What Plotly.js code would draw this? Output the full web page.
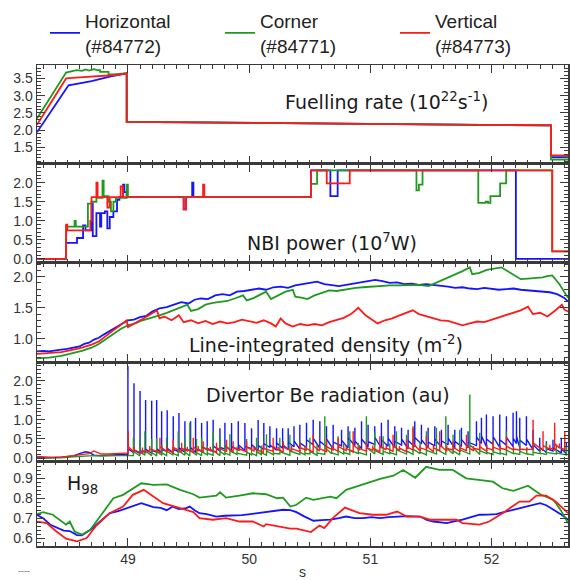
<!DOCTYPE html>
<html>
<head>
<meta charset="utf-8">
<script src="https://cdn.plot.ly/plotly-3.0.1.min.js"></script>
<style>
html,body{margin:0;padding:0;background:#fff;}
#chart{width:570px;height:580px;}
</style>
</head>
<body>
<div id="chart"></div>
<script>
// ---------- series names ----------
const seriesNames = ['Horizontal<br>(#84772)', 'Corner<br>(#84771)', 'Vertical<br>(#84773)'];
const seriesColors = ['#1414ff', '#1f9a1f', '#ff1a1a'];

// ---------- Panel 1: fuelling rate ----------
const fuelBlueT = [48.25, 48.51, 48.60, 48.70, 48.85, 48.99, 48.99, 52.49, 52.49, 52.63];
const fuelBlueV = [1.94, 3.30, 3.36, 3.42, 3.55, 3.65, 2.24, 2.14, 1.22, 1.22];
const fuelGreenT = [48.25, 48.49, 48.55, 48.58, 48.62, 48.65, 48.68, 48.72, 48.75, 48.77, 48.77, 48.84, 48.84, 48.88, 48.99, 48.99, 52.49, 52.49, 52.63];
const fuelGreenV = [2.34, 3.67, 3.72, 3.74, 3.72, 3.76, 3.73, 3.77, 3.74, 3.74, 3.69, 3.69, 3.62, 3.62, 3.65, 2.24, 2.14, 1.15, 1.15];
const fuelRedT = [48.25, 48.49, 48.60, 48.70, 48.80, 48.90, 48.99, 48.99, 52.49, 52.49, 52.63];
const fuelRedV = [2.16, 3.50, 3.53, 3.56, 3.58, 3.60, 3.65, 2.24, 2.14, 1.27, 1.27];

// ---------- Panel 2: NBI power (step) ----------
const nbiBlueT = [48.25, 48.49, 48.58, 48.63, 48.65, 48.70, 48.71, 48.74, 48.77, 48.78, 48.81, 48.83, 48.85, 48.88, 48.91, 48.93, 48.96, 48.97, 48.99, 49.46, 49.48, 49.53, 49.54, 50.51, 50.67, 50.73, 52.20, 52.63];
const nbiBlueV = [0, 0.42, 0.55, 0.88, 0.75, 1.45, 0.60, 1.20, 0.85, 1.20, 1.25, 0.80, 1.10, 1.25, 1.55, 1.62, 1.95, 1.75, 1.62, 1.30, 1.62, 2.00, 1.62, 2.32, 1.65, 2.32, 0, 0];
const nbiGreenT = [48.25, 48.49, 48.56, 48.57, 48.67, 48.70, 48.74, 48.79, 48.80, 48.84, 48.86, 48.88, 48.90, 48.99, 49.00, 50.51, 50.56, 51.38, 51.40, 51.43, 51.89, 51.95, 51.97, 51.99, 52.07, 52.12, 52.50, 52.63];
const nbiGreenV = [0, 0.85, 1.00, 0.85, 1.45, 1.50, 1.60, 2.05, 1.65, 1.50, 1.25, 1.50, 1.60, 1.95, 1.62, 1.97, 2.32, 1.80, 1.95, 2.32, 1.47, 1.50, 1.47, 1.65, 1.98, 2.32, 0.20, 0.20];
const nbiRedT = [48.25, 48.49, 48.50, 48.69, 48.70, 48.74, 48.75, 48.83, 48.85, 48.94, 48.96, 49.46, 49.48, 49.62, 49.63, 50.51, 50.64, 50.83, 52.50, 52.63];
const nbiRedV = [0, 0.90, 0.75, 1.00, 1.62, 2.00, 1.62, 1.35, 1.62, 1.90, 1.62, 1.30, 1.62, 1.95, 1.62, 2.32, 1.98, 2.32, 0.20, 0.20];

// ---------- Panel 3: line-integrated density ----------
const densBlueT = [48.25, 48.30, 48.35, 48.40, 48.45, 48.50, 48.55, 48.60, 48.64, 48.68, 48.72, 48.76, 48.80, 48.85, 48.90, 48.95, 49.00, 49.05, 49.10, 49.15, 49.20, 49.26, 49.32, 49.38, 49.44, 49.50, 49.55, 49.60, 49.66, 49.72, 49.78, 49.84, 49.90, 49.96, 50.02, 50.08, 50.14, 50.20, 50.26, 50.32, 50.38, 50.44, 50.50, 50.56, 50.62, 50.68, 50.74, 50.80, 50.86, 50.92, 50.98, 51.04, 51.10, 51.16, 51.22, 51.28, 51.34, 51.40, 51.46, 51.52, 51.58, 51.64, 51.70, 51.76, 51.82, 51.88, 51.94, 52.00, 52.06, 52.12, 52.18, 52.24, 52.30, 52.36, 52.42, 52.48, 52.54, 52.60, 52.63];
const densBlueV = [0.80, 0.81, 0.80, 0.82, 0.83, 0.84, 0.86, 0.88, 0.92, 0.94, 0.99, 1.02, 1.07, 1.13, 1.19, 1.24, 1.30, 1.31, 1.35, 1.37, 1.44, 1.49, 1.51, 1.55, 1.59, 1.57, 1.63, 1.65, 1.64, 1.70, 1.72, 1.70, 1.76, 1.77, 1.79, 1.81, 1.79, 1.83, 1.84, 1.82, 1.86, 1.88, 1.89, 1.92, 1.88, 1.87, 1.85, 1.87, 1.89, 1.91, 1.92, 1.95, 1.93, 1.90, 1.91, 1.88, 1.89, 1.87, 1.88, 1.87, 1.85, 1.84, 1.82, 1.83, 1.81, 1.80, 1.82, 1.80, 1.79, 1.80, 1.81, 1.79, 1.78, 1.77, 1.76, 1.75, 1.72, 1.66, 1.60];
const densGreenT = [48.25, 48.35, 48.45, 48.55, 48.62, 48.70, 48.76, 48.82, 48.88, 48.94, 49.00, 49.06, 49.12, 49.18, 49.26, 49.32, 49.38, 49.44, 49.49, 49.52, 49.58, 49.64, 49.70, 49.76, 49.82, 49.88, 49.95, 49.98, 50.04, 50.10, 50.14, 50.18, 50.24, 50.30, 50.36, 50.38, 50.44, 50.48, 50.54, 50.60, 50.66, 50.72, 50.80, 50.88, 50.94, 51.00, 51.08, 51.16, 51.24, 51.32, 51.40, 51.48, 51.56, 51.64, 51.70, 51.76, 51.82, 51.84, 51.90, 51.96, 52.02, 52.08, 52.14, 52.20, 52.24, 52.30, 52.36, 52.42, 52.46, 52.50, 52.56, 52.60, 52.63];
const densGreenV = [0.69, 0.70, 0.73, 0.77, 0.81, 0.86, 0.92, 1.00, 1.08, 1.16, 1.22, 1.25, 1.30, 1.33, 1.38, 1.42, 1.46, 1.51, 1.55, 1.45, 1.48, 1.55, 1.58, 1.60, 1.61, 1.65, 1.70, 1.62, 1.66, 1.72, 1.76, 1.64, 1.70, 1.76, 1.79, 1.68, 1.66, 1.64, 1.70, 1.74, 1.78, 1.77, 1.80, 1.82, 1.83, 1.84, 1.85, 1.86, 1.86, 1.86, 1.87, 1.85, 1.92, 1.98, 2.03, 2.09, 2.15, 2.04, 2.06, 2.11, 2.13, 2.15, 2.08, 2.00, 1.96, 1.97, 1.98, 1.99, 2.01, 2.02, 1.88, 1.76, 1.66];
const densRedT = [48.25, 48.35, 48.45, 48.55, 48.62, 48.70, 48.76, 48.82, 48.88, 48.94, 48.99, 49.00, 49.06, 49.12, 49.18, 49.24, 49.26, 49.30, 49.36, 49.42, 49.46, 49.52, 49.58, 49.64, 49.70, 49.76, 49.82, 49.88, 49.94, 50.00, 50.06, 50.12, 50.18, 50.22, 50.26, 50.30, 50.36, 50.42, 50.48, 50.54, 50.60, 50.66, 50.72, 50.78, 50.84, 50.90, 50.96, 51.02, 51.06, 51.12, 51.18, 51.24, 51.30, 51.35, 51.40, 51.46, 51.52, 51.58, 51.64, 51.70, 51.76, 51.82, 51.88, 51.94, 52.00, 52.06, 52.12, 52.18, 52.24, 52.30, 52.34, 52.40, 52.46, 52.52, 52.58, 52.60, 52.63];
const densRedV = [0.76, 0.77, 0.79, 0.83, 0.86, 0.91, 0.96, 1.05, 1.14, 1.22, 1.30, 1.19, 1.25, 1.32, 1.39, 1.46, 1.33, 1.36, 1.30, 1.38, 1.27, 1.30, 1.25, 1.29, 1.24, 1.28, 1.25, 1.27, 1.31, 1.28, 1.26, 1.30, 1.25, 1.20, 1.33, 1.25, 1.20, 1.24, 1.22, 1.24, 1.22, 1.27, 1.30, 1.34, 1.40, 1.50, 1.38, 1.30, 1.25, 1.30, 1.33, 1.38, 1.42, 1.46, 1.40, 1.37, 1.33, 1.30, 1.29, 1.25, 1.22, 1.25, 1.28, 1.27, 1.31, 1.34, 1.38, 1.42, 1.46, 1.52, 1.40, 1.42, 1.36, 1.45, 1.55, 1.47, 1.44];

// ---------- Panel 4: divertor Be radiation ----------
const radPreT = [48.25, 48.35, 48.45, 48.55, 48.60, 48.65, 48.68, 48.72, 48.78, 48.85, 48.92, 48.99];
const radBluePreV = [0.02, 0.01, 0.03, 0.06, 0.12, 0.17, 0.15, 0.08, 0.07, 0.09, 0.10, 0.10];
const radGreenPreV = [0.00, 0.00, 0.01, 0.04, 0.05, 0.06, 0.06, 0.07, 0.06, 0.07, 0.07, 0.07];
const radRedPreV = [0.05, 0.03, 0.03, 0.07, 0.09, 0.11, 0.12, 0.19, 0.11, 0.11, 0.12, 0.12];

const radBlueElmT = [49.00, 49.05, 49.10, 49.146, 49.196, 49.237, 49.278, 49.324, 49.374, 49.421, 49.470, 49.517, 49.558, 49.608, 49.654, 49.703, 49.759, 49.800, 49.855, 49.910, 49.965, 50.020, 50.074, 50.121, 50.171, 50.226, 50.276, 50.322, 50.37, 50.418, 50.473, 50.528, 50.583, 50.638, 50.693, 50.762, 50.816, 50.872, 50.927, 50.981, 51.036, 51.091, 51.146, 51.201, 51.257, 51.311, 51.366, 51.421, 51.476, 51.531, 51.586, 51.641, 51.696, 51.751, 51.806, 51.875, 51.916, 51.957, 52.012, 52.067, 52.122, 52.177, 52.205, 52.232, 52.287, 52.342, 52.397, 52.452, 52.506, 52.575, 52.617];
const radBlueElmPeak = [2.39, 1.94, 1.74, 1.51, 1.49, 1.51, 1.22, 1.24, 1.09, 1.17, 0.96, 0.96, 1.04, 0.91, 0.96, 1.00, 0.78, 0.92, 0.91, 0.96, 0.91, 0.78, 0.99, 0.91, 0.83, 0.78, 0.78, 0.78, 0.83, 0.87, 0.92, 1.00, 0.96, 0.83, 0.87, 0.74, 0.83, 0.79, 0.96, 0.87, 0.83, 0.92, 1.00, 0.83, 0.79, 0.74, 0.96, 0.87, 0.79, 0.83, 0.74, 0.87, 0.74, 0.79, 0.70, 0.96, 1.05, 1.13, 1.09, 1.13, 1.09, 1.18, 1.22, 1.05, 1.09, 0.74, 0.53, 0.44, 0.48, 0.53, 0.40];
const radBlueElmBase = [0.10, 0.14, 0.12, 0.15, 0.13, 0.16, 0.14, 0.18, 0.15, 0.17, 0.16, 0.20, 0.15, 0.18, 0.22, 0.17, 0.19, 0.24, 0.18, 0.22, 0.20, 0.25, 0.19, 0.23, 0.28, 0.21, 0.26, 0.22, 0.30, 0.24, 0.28, 0.35, 0.26, 0.30, 0.24, 0.32, 0.27, 0.33, 0.25, 0.30, 0.36, 0.26, 0.31, 0.28, 0.34, 0.25, 0.30, 0.37, 0.27, 0.32, 0.29, 0.35, 0.26, 0.31, 0.28, 0.33, 0.38, 0.30, 0.36, 0.28, 0.34, 0.30, 0.38, 0.27, 0.33, 0.22, 0.18, 0.15, 0.19, 0.14, 0.12];
const radBlueElmTail = [0.25, 0.22, 0.20, 0.24, 0.21, 0.25, 0.22, 0.26, 0.23, 0.27, 0.24, 0.28, 0.25, 0.30, 0.26, 0.32, 0.28, 0.33, 0.30, 0.35, 0.31, 0.36, 0.33, 0.38, 0.34, 0.40, 0.36, 0.42, 0.45, 0.40, 0.48, 0.52, 0.44, 0.50, 0.42, 0.47, 0.53, 0.45, 0.50, 0.43, 0.55, 0.48, 0.52, 0.44, 0.50, 0.46, 0.54, 0.48, 0.42, 0.50, 0.45, 0.52, 0.44, 0.49, 0.42, 0.55, 0.58, 0.50, 0.56, 0.48, 0.54, 0.52, 0.58, 0.47, 0.50, 0.35, 0.28, 0.25, 0.27, 0.24, 0.20];

const radGreenElmT = [49.045, 49.099, 49.140, 49.196, 49.237, 49.280, 49.319, 49.370, 49.415, 49.470, 49.511, 49.566, 49.608, 49.655, 49.703, 49.759, 49.800, 49.841, 49.900, 49.979, 50.020, 50.061, 50.100, 50.143, 50.200, 50.253, 50.336, 50.418, 50.460, 50.501, 50.560, 50.624, 50.680, 50.734, 50.780, 50.830, 50.900, 50.967, 51.036, 51.105, 51.160, 51.215, 51.298, 51.352, 51.410, 51.462, 51.545, 51.622, 51.682, 51.737, 51.820, 51.902, 51.960, 52.012, 52.070, 52.122, 52.180, 52.232, 52.290, 52.342, 52.400, 52.452, 52.534, 52.617];
const radGreenElmPeak = [0.53, 0.50, 0.70, 0.50, 0.52, 0.35, 0.53, 0.30, 0.70, 0.53, 0.92, 0.50, 0.53, 0.32, 0.70, 0.57, 0.35, 0.62, 0.30, 0.50, 0.28, 0.53, 0.33, 0.62, 0.30, 0.53, 0.61, 0.44, 0.30, 0.53, 0.35, 1.09, 0.32, 0.57, 0.38, 0.70, 0.40, 1.09, 0.66, 0.57, 0.38, 0.70, 0.61, 0.83, 0.42, 0.70, 0.79, 1.09, 0.61, 0.74, 1.65, 0.66, 0.36, 0.48, 0.33, 0.70, 0.30, 0.53, 0.28, 0.44, 0.30, 0.40, 0.35, 0.31];
const radGreenElmBase = [0.07, 0.06, 0.08, 0.07, 0.06, 0.08, 0.07, 0.09, 0.07, 0.08, 0.06, 0.08, 0.07, 0.09, 0.08, 0.07, 0.09, 0.08, 0.10, 0.08, 0.09, 0.07, 0.10, 0.08, 0.09, 0.11, 0.08, 0.10, 0.09, 0.11, 0.08, 0.10, 0.12, 0.09, 0.11, 0.10, 0.12, 0.09, 0.11, 0.10, 0.12, 0.09, 0.11, 0.10, 0.12, 0.09, 0.11, 0.10, 0.12, 0.09, 0.11, 0.10, 0.12, 0.10, 0.11, 0.09, 0.12, 0.10, 0.11, 0.09, 0.12, 0.10, 0.11, 0.09];
const radGreenElmTail = [0.18, 0.16, 0.20, 0.15, 0.17, 0.14, 0.18, 0.13, 0.20, 0.16, 0.22, 0.15, 0.17, 0.13, 0.20, 0.18, 0.14, 0.19, 0.13, 0.16, 0.13, 0.17, 0.14, 0.19, 0.13, 0.17, 0.19, 0.16, 0.13, 0.18, 0.14, 0.28, 0.14, 0.19, 0.15, 0.22, 0.15, 0.28, 0.20, 0.18, 0.15, 0.22, 0.19, 0.24, 0.16, 0.21, 0.23, 0.28, 0.19, 0.22, 0.35, 0.20, 0.15, 0.17, 0.14, 0.21, 0.13, 0.18, 0.12, 0.16, 0.13, 0.15, 0.14, 0.13];

const radRedElmT = [49.003, 49.050, 49.120, 49.180, 49.264, 49.320, 49.374, 49.443, 49.490, 49.539, 49.580, 49.621, 49.680, 49.731, 49.814, 49.868, 49.920, 49.979, 50.040, 50.116, 50.198, 50.240, 50.281, 50.350, 50.418, 50.470, 50.528, 50.580, 50.638, 50.690, 50.734, 50.800, 50.858, 50.910, 50.967, 51.020, 51.078, 51.130, 51.187, 51.240, 51.298, 51.352, 51.410, 51.462, 51.520, 51.572, 51.630, 51.682, 51.740, 51.792, 51.850, 51.902, 51.960, 52.012, 52.070, 52.122, 52.180, 52.232, 52.290, 52.342, 52.424, 52.480, 52.520, 52.560, 52.603];
const radRedElmPeak = [0.70, 0.30, 0.28, 0.32, 0.53, 0.30, 0.48, 0.40, 0.30, 0.53, 0.32, 0.44, 0.30, 0.40, 0.48, 0.44, 0.30, 0.44, 0.32, 0.35, 0.53, 0.30, 0.44, 0.32, 0.40, 0.33, 0.61, 0.32, 0.48, 0.34, 0.53, 0.33, 0.70, 0.32, 0.44, 0.33, 0.57, 0.34, 0.61, 0.32, 0.48, 0.79, 0.33, 0.57, 0.34, 0.70, 0.33, 0.44, 0.35, 0.61, 0.32, 0.48, 0.34, 0.44, 0.33, 0.57, 0.30, 0.31, 0.28, 1.00, 0.70, 0.35, 0.92, 0.38, 0.70];
const radRedElmBase = [0.14, 0.16, 0.13, 0.17, 0.15, 0.18, 0.14, 0.17, 0.19, 0.15, 0.18, 0.16, 0.20, 0.15, 0.18, 0.16, 0.21, 0.17, 0.19, 0.15, 0.18, 0.20, 0.16, 0.19, 0.17, 0.21, 0.16, 0.19, 0.17, 0.22, 0.18, 0.20, 0.16, 0.21, 0.18, 0.20, 0.17, 0.22, 0.18, 0.20, 0.17, 0.21, 0.19, 0.22, 0.17, 0.20, 0.18, 0.21, 0.17, 0.20, 0.19, 0.22, 0.18, 0.21, 0.22, 0.22, 0.22, 0.21, 0.22, 0.23, 0.20, 0.24, 0.21, 0.26, 0.23];
const radRedElmTail = [0.30, 0.22, 0.20, 0.24, 0.30, 0.22, 0.28, 0.26, 0.23, 0.30, 0.24, 0.28, 0.23, 0.27, 0.30, 0.28, 0.24, 0.29, 0.25, 0.26, 0.31, 0.24, 0.29, 0.25, 0.28, 0.26, 0.33, 0.25, 0.30, 0.26, 0.31, 0.26, 0.35, 0.25, 0.29, 0.26, 0.32, 0.27, 0.33, 0.26, 0.30, 0.38, 0.27, 0.32, 0.27, 0.35, 0.26, 0.29, 0.27, 0.33, 0.26, 0.30, 0.27, 0.29, 0.26, 0.31, 0.24, 0.24, 0.23, 0.40, 0.33, 0.27, 0.38, 0.28, 0.32];

// ---------- Panel 5: H98 ----------
const h98BlueT = [48.25, 48.30, 48.36, 48.42, 48.47, 48.52, 48.58, 48.62, 48.66, 48.70, 48.74, 48.80, 48.85, 48.92, 48.99, 49.05, 49.11, 49.16, 49.21, 49.27, 49.32, 49.37, 49.42, 49.48, 49.51, 49.55, 49.59, 49.65, 49.73, 49.80, 49.87, 49.94, 50.01, 50.08, 50.14, 50.20, 50.28, 50.34, 50.39, 50.45, 50.53, 50.60, 50.67, 50.74, 50.80, 50.87, 50.94, 51.01, 51.08, 51.15, 51.22, 51.30, 51.41, 51.47, 51.52, 51.58, 51.63, 51.70, 51.76, 51.83, 51.90, 51.97, 52.04, 52.10, 52.18, 52.24, 52.29, 52.35, 52.40, 52.45, 52.51, 52.57, 52.63];
const h98BlueV = [0.716, 0.700, 0.667, 0.650, 0.637, 0.635, 0.615, 0.613, 0.630, 0.645, 0.667, 0.700, 0.725, 0.735, 0.750, 0.762, 0.775, 0.765, 0.755, 0.752, 0.740, 0.758, 0.745, 0.750, 0.758, 0.740, 0.725, 0.720, 0.708, 0.712, 0.713, 0.715, 0.720, 0.725, 0.730, 0.735, 0.742, 0.740, 0.730, 0.710, 0.687, 0.690, 0.692, 0.700, 0.708, 0.700, 0.700, 0.705, 0.700, 0.705, 0.708, 0.710, 0.708, 0.690, 0.683, 0.678, 0.675, 0.685, 0.692, 0.705, 0.717, 0.718, 0.720, 0.730, 0.742, 0.750, 0.758, 0.765, 0.775, 0.765, 0.742, 0.720, 0.692];
const h98GreenT = [48.25, 48.30, 48.38, 48.47, 48.49, 48.52, 48.56, 48.62, 48.69, 48.77, 48.88, 48.96, 49.04, 49.11, 49.21, 49.32, 49.43, 49.54, 49.59, 49.67, 49.73, 49.76, 49.81, 49.92, 50.03, 50.14, 50.23, 50.28, 50.34, 50.39, 50.47, 50.53, 50.60, 50.67, 50.72, 50.80, 50.94, 51.08, 51.19, 51.27, 51.37, 51.46, 51.57, 51.68, 51.79, 51.90, 52.01, 52.09, 52.18, 52.30, 52.40, 52.51, 52.57, 52.63];
const h98GreenV = [0.720, 0.730, 0.717, 0.675, 0.667, 0.683, 0.633, 0.617, 0.642, 0.708, 0.800, 0.817, 0.850, 0.875, 0.867, 0.870, 0.842, 0.820, 0.803, 0.808, 0.813, 0.830, 0.803, 0.813, 0.825, 0.820, 0.800, 0.803, 0.758, 0.767, 0.803, 0.792, 0.800, 0.808, 0.800, 0.842, 0.870, 0.897, 0.913, 0.942, 0.903, 0.958, 0.942, 0.942, 0.900, 0.892, 0.883, 0.850, 0.837, 0.863, 0.820, 0.792, 0.740, 0.675];
const h98RedT = [48.25, 48.33, 48.41, 48.49, 48.58, 48.66, 48.74, 48.85, 48.96, 49.04, 49.13, 49.21, 49.29, 49.43, 49.54, 49.59, 49.70, 49.81, 49.92, 50.03, 50.12, 50.14, 50.23, 50.34, 50.39, 50.51, 50.58, 50.62, 50.69, 50.79, 50.91, 51.02, 51.13, 51.22, 51.30, 51.41, 51.49, 51.63, 51.71, 51.76, 51.90, 51.98, 52.09, 52.23, 52.31, 52.37, 52.45, 52.53, 52.63];
const h98RedV = [0.683, 0.675, 0.633, 0.597, 0.583, 0.600, 0.663, 0.725, 0.758, 0.817, 0.842, 0.808, 0.775, 0.750, 0.730, 0.700, 0.692, 0.700, 0.683, 0.683, 0.658, 0.670, 0.658, 0.647, 0.647, 0.630, 0.663, 0.650, 0.700, 0.753, 0.725, 0.717, 0.717, 0.733, 0.708, 0.708, 0.692, 0.692, 0.692, 0.675, 0.667, 0.683, 0.725, 0.783, 0.783, 0.813, 0.813, 0.783, 0.725];

// ---------- labels ----------
const panelLabels = ['Fuelling rate (10<sup>22</sup>s<sup>-1</sup>)', 'NBI power (10<sup>7</sup>W)', 'Line-integrated density (m<sup>-2</sup>)', 'Divertor Be radiation (au)', 'H<sub>98</sub>'];
const xTitle = 's';

// ---------- build traces ----------
function spikeSeries(preT, preV, t, peak, base, tail) {
  const x = preT.slice(), y = preV.slice();
  t.forEach((ti, i) => { x.push(ti, ti, ti); y.push(base[i], peak[i], tail[i]); });
  return {x, y};
}
const radBlue = spikeSeries(radPreT, radBluePreV, radBlueElmT, radBlueElmPeak, radBlueElmBase, radBlueElmTail);
const radGreen = spikeSeries(radPreT, radGreenPreV, radGreenElmT, radGreenElmPeak, radGreenElmBase, radGreenElmTail);
const radRed = spikeSeries(radPreT, radRedPreV, radRedElmT, radRedElmPeak, radRedElmBase, radRedElmTail);

const panelData = [
  [[fuelBlueT, fuelBlueV], [fuelGreenT, fuelGreenV], [fuelRedT, fuelRedV]],
  [[nbiBlueT, nbiBlueV], [nbiGreenT, nbiGreenV], [nbiRedT, nbiRedV]],
  [[densBlueT, densBlueV], [densGreenT, densGreenV], [densRedT, densRedV]],
  [[radBlue.x, radBlue.y], [radGreen.x, radGreen.y], [radRed.x, radRed.y]],
  [[h98BlueT, h98BlueV], [h98GreenT, h98GreenV], [h98RedT, h98RedV]]
];

const traces = [];
panelData.forEach((panel, p) => {
  panel.forEach((s, k) => {
    traces.push({
      x: s[0], y: s[1], type: 'scatter', mode: 'lines',
      name: seriesNames[k],
      legendgroup: 'g' + k,
      showlegend: p === 0,
      line: {color: seriesColors[k], width: p === 3 ? 1.4 : 1.8, shape: p === 1 ? 'hv' : 'linear'},
      xaxis: 'x' + (p + 1), yaxis: 'y' + (p + 1),
      hoverinfo: 'skip'
    });
  });
});

// ---------- layout ----------
const axisColor = '#3a3a3a';
const tickFont = {family: 'Liberation Sans, Arial, sans-serif', size: 14, color: '#333'};
const domains = [[0.7942, 1], [0.5884, 0.7942], [0.3825, 0.5884], [0.1767, 0.3825], [0, 0.1767]];
const yRanges = [[1.02, 3.89], [-0.105, 2.49], [0.63, 2.22], [-0.07, 2.49], [0.56, 0.987]];
const yDticks = [0.5, 0.5, 0.5, 0.5, 0.1];
const yMinor = [0.1, 0.1, 0.1, 0.1, 0.02];

const layout = {
  width: 570, height: 580,
  margin: {l: 37, r: 2, t: 65, b: 34},
  paper_bgcolor: '#fff', plot_bgcolor: '#fff',
  showlegend: true,
  legend: {
    orientation: 'h', x: 0.0188, xanchor: 'left', y: 1.1316, yanchor: 'top',
    font: {family: 'Liberation Sans, Arial, sans-serif', size: 19, color: '#222'},
    entrywidth: 130, entrywidthmode: 'pixels', bgcolor: 'rgba(0,0,0,0)', borderwidth: 0
  },
  annotations: [],
  font: {family: 'Liberation Sans, Arial, sans-serif'}
};

for (let p = 0; p < 5; p++) {
  const n = p + 1;
  const xa = {
    range: [48.25, 52.63], anchor: 'y' + n, domain: [0, 1],
    tickmode: 'linear', tick0: 49, dtick: 1,
    showticklabels: p === 4,
    showline: true, linecolor: axisColor, linewidth: 1.5, mirror: 'ticks',
    ticks: 'inside', ticklen: 8, tickcolor: axisColor,
    minor: {ticks: 'inside', ticklen: 4, tickcolor: axisColor, dtick: 0.1, tick0: 49},
    showgrid: false, zeroline: false, tickfont: tickFont
  };
  if (p > 0) xa.matches = 'x';
  if (p === 4) xa.title = {text: xTitle, font: {family: 'Liberation Sans, Arial, sans-serif', size: 14, color: '#333'}, standoff: 4};
  layout['xaxis' + n] = xa;
  layout['yaxis' + n] = {
    range: yRanges[p], domain: domains[p], anchor: 'x' + n,
    tickmode: 'linear', dtick: yDticks[p], tick0: 0, tickformat: '.1f',
    showline: true, linecolor: axisColor, linewidth: 1.5, mirror: 'ticks',
    ticks: 'inside', ticklen: 8, tickcolor: axisColor,
    minor: {ticks: 'inside', ticklen: 4, tickcolor: axisColor, dtick: yMinor[p], tick0: 0},
    showgrid: false, zeroline: false, tickfont: tickFont
  };
}

const labelPos = [[0.463, 0.926], [0.392, 0.633], [0.282, 0.419], [0.3145, 0.314], [0.052, 0.127]];
panelLabels.forEach((txt, i) => {
  layout.annotations.push({
    text: txt, xref: 'paper', yref: 'paper', x: labelPos[i][0], y: labelPos[i][1],
    xanchor: 'left', yanchor: 'middle', showarrow: false,
    font: {family: 'DejaVu Sans, Verdana, sans-serif', size: 19, color: '#1a1a1a'}
  });
});
layout.annotations.push({
  text: '----', xref: 'paper', yref: 'paper', x: -0.04, y: -0.052, xanchor: 'left', yanchor: 'middle',
  showarrow: false, font: {family: 'Liberation Sans, Arial, sans-serif', size: 9, color: '#666'}
});

Plotly.newPlot('chart', traces, layout, {displayModeBar: false, staticPlot: true});
</script>
</body>
</html>
